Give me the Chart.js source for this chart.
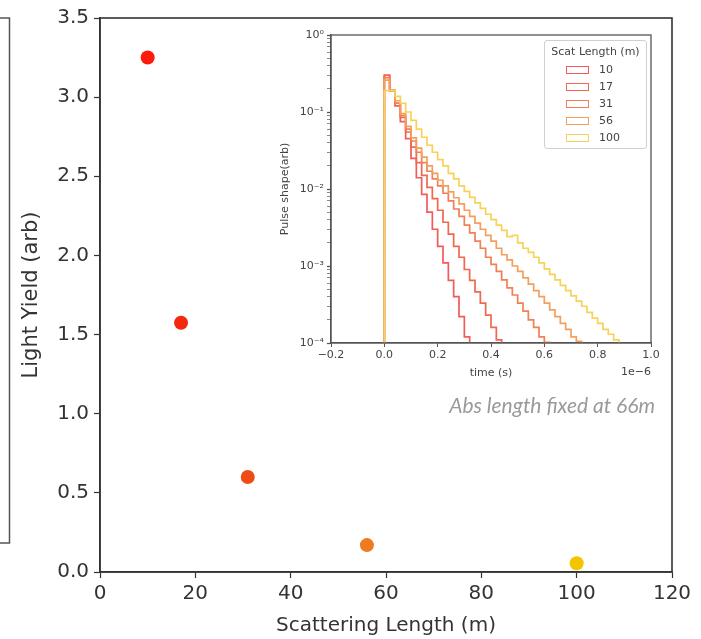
<!DOCTYPE html>
<html>
<head>
<meta charset="utf-8">
<script src="https://cdn.jsdelivr.net/npm/chart.js@4.4.1/dist/chart.umd.min.js"></script>
<style>
  html, body { margin: 0; padding: 0; background: #fff; }
  #wrap { position: relative; width: 701px; height: 639px; overflow: hidden; }
  #main { position: absolute; left: 0; top: 0; }
  #inset { position: absolute; left: 270px; top: 22px; }
  #legend { position: absolute; left: 544px; top: 40px; width: 103px; height: 109px;
    border: 1px solid #d0d0d0; border-radius: 3px; background: rgba(255,255,255,0.85);
    font-family: "DejaVu Sans", sans-serif; font-size: 11px; color: #444; box-sizing: border-box; }
  #legend .ttl { text-align: center; margin-top: 4px; margin-bottom: 2px; line-height: 14px; white-space: nowrap; }
  #legend .row { display: flex; align-items: center; height: 17px; padding-left: 21px; line-height: 14px; }
  #legend .sw { width: 23px; height: 8px; box-sizing: border-box; border: 1.6px solid; margin-right: 10px; }
  #note { position: absolute; right: 46px; top: 392px; font-family: Lato, "Open Sans", sans-serif;
    font-style: italic; font-size: 21px; color: #9a9a9a; white-space: nowrap; }
</style>
</head>
<body>
<div id="wrap">
  <canvas id="main" width="701" height="639"></canvas>
  <canvas id="inset" width="400" height="370"></canvas>
  <div id="legend"></div>
  <div id="note">Abs length fixed at 66m</div>
</div>
<script>
// ---------- main scatter data ----------
const scatLength = [10, 17, 31, 56, 100];
const lightYield = [3.25, 1.575, 0.60, 0.17, 0.055];
const yTicks = [0, 0.5, 1.0, 1.5, 2.0, 2.5, 3.0, 3.5];
const xTicks = [0, 20, 40, 60, 80, 100, 120];

// ---------- inset histogram data (pulse shape per 0.02e-6 s bin, starting at t=0) ----------
const seriesLabels = ['10', '17', '31', '56', '100'];
const binWidth = 0.02; // units of 1e-6 s
const pulse10 = [0.22, 0.30, 0.19, 0.12, 0.075, 0.045, 0.025, 0.014, 0.0085, 0.005, 0.003, 0.0018,
  0.0011, 0.00065, 0.0004, 0.00022, 0.00012];
const pulse17 = [0.22, 0.30, 0.19, 0.13, 0.085, 0.055, 0.035, 0.022, 0.015, 0.0105, 0.0075, 0.0053,
  0.0037, 0.0026, 0.0018, 0.0013, 0.0009, 0.00065, 0.00046, 0.00033, 0.00023, 0.00016, 0.00011];
const pulse31 = [0.20, 0.28, 0.19, 0.13, 0.09, 0.06, 0.042, 0.03, 0.022, 0.017, 0.0135, 0.011,
  0.0088, 0.007, 0.0055, 0.0044, 0.0034, 0.0027, 0.0021, 0.0017, 0.0013, 0.00105, 0.00085, 0.00066,
  0.00052, 0.00042, 0.00033, 0.00026, 0.0002, 0.00016, 0.00012, 0.000102];
const pulse56 = [0.20, 0.26, 0.19, 0.14, 0.095, 0.065, 0.046, 0.034, 0.026, 0.02, 0.016, 0.013,
  0.011, 0.0092, 0.0077, 0.0064, 0.0053, 0.0044, 0.0036, 0.003, 0.0025, 0.0021, 0.0017, 0.0014,
  0.0012, 0.001, 0.00085, 0.0007, 0.00058, 0.00048, 0.0004, 0.00033, 0.00027, 0.00022, 0.00018,
  0.00015, 0.00012, 0.000105];
const pulse100 = [0.10, 0.19, 0.19, 0.16, 0.13, 0.10, 0.078, 0.06, 0.047, 0.037, 0.03, 0.024,
  0.02, 0.016, 0.0135, 0.011, 0.0093, 0.0078, 0.0066, 0.0056, 0.0047, 0.004, 0.0034, 0.0029,
  0.0024, 0.0025, 0.002, 0.0017, 0.0015, 0.0013, 0.0011, 0.00092, 0.00078, 0.00066, 0.00056,
  0.00048, 0.00041, 0.00035, 0.0003, 0.00025, 0.00021, 0.00018, 0.00015, 0.00013, 0.00011];
const insetXTicks = [-0.2, 0.0, 0.2, 0.4, 0.6, 0.8, 1.0];

// ---------- styles ----------
const dotColors = ['#fb1a0c', '#f3280f', '#ee4c16', '#ee7b1f', '#f5c400'];
const histColors = ['#f45a5a', '#f3674f', '#f27f55', '#f4a05c', '#f8d258'];
const FONT = '"DejaVu Sans", sans-serif';
const AX = '#333';

const frame = (color, width) => ({
  id: 'frame',
  afterDraw(chart) {
    const a = chart.chartArea, c = chart.ctx;
    c.save(); c.strokeStyle = color; c.lineWidth = width;
    c.strokeRect(a.left, a.top, a.right - a.left, a.bottom - a.top);
    c.restore();
  }
});

// ---------- main chart ----------
const sidePanel = {
  id: 'sidePanel',
  beforeDraw(chart) {
    const c = chart.ctx;
    c.save(); c.strokeStyle = '#555'; c.lineWidth = 1.5;
    c.beginPath(); c.moveTo(0, 18); c.lineTo(9.5, 18); c.lineTo(9.5, 543); c.lineTo(0, 543); c.stroke();
    c.restore();
  }
};

new Chart(document.getElementById('main'), {
  type: 'scatter',
  data: {
    datasets: [{
      data: scatLength.map((x, i) => ({ x, y: lightYield[i] })),
      pointRadius: 7, pointHoverRadius: 7,
      pointBackgroundColor: dotColors, pointBorderColor: dotColors, pointBorderWidth: 0
    }]
  },
  options: {
    responsive: false, animation: false, devicePixelRatio: 1,
    layout: { padding: { left: 15, top: 18, right: 29, bottom: 1 } },
    plugins: { legend: { display: false }, tooltip: { enabled: false } },
    scales: {
      x: {
        type: 'linear', min: 0, max: 120,
        afterBuildTicks: s => { s.ticks = xTicks.map(v => ({ value: v })); },
        afterFit: s => { s.height = 66; },
        ticks: { font: { family: FONT, size: 20 }, color: AX, padding: 4, maxRotation: 0 },
        grid: { drawOnChartArea: false, drawTicks: true, tickLength: 6, tickColor: AX, tickWidth: 1.2 },
        border: { color: AX, width: 1.6 },
        title: { display: true, text: 'Scattering Length (m)', font: { family: FONT, size: 20 }, color: AX, padding: { top: 2, bottom: 0 } }
      },
      y: {
        type: 'linear', min: 0, max: 3.5,
        afterBuildTicks: s => { s.ticks = yTicks.map(v => ({ value: v })); },
        afterFit: s => { s.width = 85; },
        ticks: { font: { family: FONT, size: 20 }, color: AX, padding: 5, callback: v => Number(v).toFixed(1) },
        grid: { drawOnChartArea: false, drawTicks: true, tickLength: 6, tickColor: AX, tickWidth: 1.2 },
        border: { color: AX, width: 1.6 },
        title: { display: true, text: 'Light Yield (arb)', font: { family: FONT, size: 21 }, color: AX }
      }
    }
  },
  plugins: [sidePanel, frame(AX, 1.6)]
});

// ---------- inset histogram ----------
const FLOOR = 1e-6;
function histPoints(vals) {
  const pts = [{ x: 0, y: FLOOR }];
  vals.forEach((v, i) => pts.push({ x: i * binWidth, y: v }));
  pts.push({ x: vals.length * binWidth, y: FLOOR });
  return pts;
}
const pulses = [pulse10, pulse17, pulse31, pulse56, pulse100];
const sup = { '-': '\u207B', '0': '\u2070', '1': '\u00B9', '2': '\u00B2', '3': '\u00B3', '4': '\u2074' };
const isDecade = v => { const e = Math.round(Math.log10(v)); return Math.abs(v - Math.pow(10, e)) < 1e-9 * Math.pow(10, e); };

new Chart(document.getElementById('inset'), {
  type: 'line',
  data: {
    datasets: pulses.map((p, i) => ({
      label: seriesLabels[i], data: histPoints(p), stepped: 'after',
      order: pulses.length - i, // later series drawn on top, as in the reference
      borderColor: histColors[i], borderWidth: 1.7, pointRadius: 0, fill: false
    }))
  },
  options: {
    responsive: false, animation: false, devicePixelRatio: 1,
    layout: { padding: { left: 5, top: 13, right: 19, bottom: 9 } },
    plugins: { legend: { display: false }, tooltip: { enabled: false } },
    scales: {
      x: {
        type: 'linear', min: -0.2, max: 1.0,
        afterBuildTicks: s => { s.ticks = insetXTicks.map(v => ({ value: v })); },
        afterFit: s => { s.height = 40; },
        ticks: { font: { family: FONT, size: 11 }, color: '#444', padding: 2, maxRotation: 0,
          callback: v => (v < 0 ? '\u2212' : '') + Math.abs(v).toFixed(1) },
        grid: { drawOnChartArea: false, drawTicks: true, tickLength: 4, tickColor: '#555' },
        border: { color: '#555', width: 1.3 },
        title: { display: true, text: 'time (s)', font: { family: FONT, size: 11 }, color: '#444', padding: { top: 0, bottom: 3 } }
      },
      y: {
        type: 'logarithmic', min: 1e-4, max: 1,
        afterBuildTicks: s => {
          const t = [];
          for (let e = -4; e <= 0; e++) for (let m = 1; m <= 9; m++) {
            if (e === 0 && m > 1) break;
            t.push({ value: m * Math.pow(10, e) });
          }
          s.ticks = t;
        },
        afterFit: s => { s.width = 56; },
        ticks: { font: { family: FONT, size: 11 }, color: '#444', padding: 3, autoSkip: false,
          callback: function (v) {
            if (!isDecade(v)) return '';
            const e = Math.round(Math.log10(v));
            return '10' + String(e).split('').map(ch => sup[ch]).join('');
          } },
        grid: { drawOnChartArea: false, drawTicks: true, tickLength: 4, tickColor: '#555',
          tickWidth: ctx => (ctx.tick && isDecade(ctx.tick.value)) ? 1.3 : 0.7 },
        border: { color: '#555', width: 1.3 },
        title: { display: true, text: 'Pulse shape(arb)', font: { family: FONT, size: 11 }, color: '#444' }
      }
    }
  },
  plugins: [frame('#555', 1.3), {
    id: 'offsetText',
    afterDraw(chart) {
      const a = chart.chartArea, c = chart.ctx;
      c.save(); c.font = '11px ' + FONT; c.fillStyle = '#444'; c.textAlign = 'right'; c.textBaseline = 'middle';
      c.fillText('1e\u22126', a.right, a.bottom + 29); c.restore();
    }
  }]
});

// ---------- legend (HTML) ----------
const lg = document.getElementById('legend');
lg.innerHTML = '<div class="ttl">Scat Length (m)</div>' + seriesLabels.map((l, i) =>
  '<div class="row"><span class="sw" style="border-color:' + histColors[i] + '"></span><span>' + l + '</span></div>').join('');
</script>
</body>
</html>
